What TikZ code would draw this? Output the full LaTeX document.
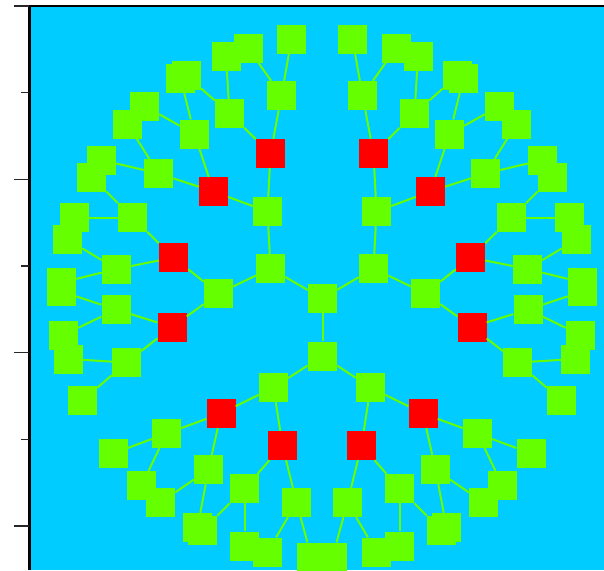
\documentclass[tikz,border=0pt]{standalone}
\usepackage{xcolor}

\definecolor{skycyan}{RGB}{0,204,255}
\definecolor{leafgreen}{RGB}{102,255,0}
\definecolor{hubred}{RGB}{255,0,0}

\begin{document}
\begin{tikzpicture}[
    x=1pt, y=-1pt,
    sq/.style={rectangle, fill=leafgreen, inner sep=0pt, minimum size=29pt},
    hub/.style={sq, fill=hubred},
    edge/.style={draw=leafgreen, line width=2pt},
    axisline/.style={line width=2.2pt, black},
    tickmark/.style={line width=1.2pt, black!85},
]

%% ── Canvas ─────────────────────────────────────────────────────────────────
\useasboundingbox (0,0) rectangle (604,570);
\fill[skycyan] (30,5) rectangle (604,570);

%% ── Centre pair ────────────────────────────────────────────────────────────
\node[sq] (T) at (322.5,298.5) {};
\node[sq] (B) at (322.5,356)   {};
\draw[edge] (T) -- (B);

%% ── Both halves: left drawn as given, right mirrored about x = 322 ────────
\foreach \s/\n in {1/l, -1/r} {
  \begin{scope}[xshift=322pt, xscale=\s]
    % inner green ring
    \foreach \nm/\xx/\yy in {A1/-51.5/268.5, X1/-54.5/211.5, X2/-103.5/293.5,
                             C1/-48.5/387.5}
      \node[sq] (\n\nm) at (\xx,\yy) {};
    % red hubs
    \foreach \nm/\xx/\yy in {R1/-51.5/153.5, R2/-108.5/191.5, R3/-148.5/257.5,
                             R4/-150/327, R5/-101/413.5, R6/-39.5/445.5}
      \node[hub] (\n\nm) at (\xx,\yy) {};
    % children of the hubs
    \foreach \nm/\xx/\yy in {G1/-40.5/95.5, G2/-92.5/113.5, G3/-127.5/134,
                             G4/-163.5/173.5, G5/-189.5/217.5, G6/-205.5/269,
                             G7/-206/309.5, G8/-195.5/362.5,
                             H1/-155.5/433.5, H2/-113.5/469.5,
                             H3/-77.5/488.5, H4/-25.5/502.5}
      \node[sq] (\n\nm) at (\xx,\yy) {};
    % outer leaves
    \foreach \nm/\xx/\yy in {P1/-30.5/39, P2/-74/48, P3/-96/56, P4/-135.5/75.5,
                             P5/-141.5/78.5, P6/-177.5/106, P7/-194.5/124,
                             P8/-220.5/160, P9/-230.5/177, P10/-247.5/217.5,
                             P11/-254.5/239.5, P12/-260.5/282.5,
                             P13/-260.5/291.5, P14/-258.5/335,
                             P15/-253.5/359, P16/-239.5/400.5,
                             P17/-209/453.5, P18/-180.5/485.5,
                             P19/-161.5/502.5, P20/-124.5/527.5,
                             P21/-119.5/530.5, P22/-77.5/546,
                             P23/-54.5/552, P24/-10.5/557}
      \node[sq] (\n\nm) at (\xx,\yy) {};

    %% links
    \draw[edge] (T) -- (\n A1);
    \draw[edge] (B) -- (\n C1);
    \foreach \a/\b in {A1/X1, A1/X2, X1/R1, X1/R2, X2/R3, X2/R4,
                       R1/G1, R1/G2, R2/G3, R2/G4, R3/G5, R3/G6, R4/G7, R4/G8,
                       G1/P1, G1/P2, G2/P3, G2/P4, G3/P5, G3/P6, G4/P7, G4/P8,
                       G5/P9, G5/P10, G6/P11, G6/P12, G7/P13, G7/P14,
                       G8/P15, G8/P16,
                       C1/R5, C1/R6, R5/H1, R5/H2, R6/H3, R6/H4,
                       H1/P17, H1/P18, H2/P19, H2/P20, H3/P21, H3/P22,
                       H4/P23, H4/P24}
      \draw[edge] (\n\a) -- (\n\b);
  \end{scope}
}

%% ── Axis frame and ticks ───────────────────────────────────────────────────
\draw[axisline] (29.5,570) -- (29.5,5.7) -- (604,5.7);
\foreach \yy in {6, 179.3, 352.7, 526}
  \draw[tickmark] (14,\yy) -- (29,\yy);
\foreach \yy in {92.7, 266, 439.3}
  \draw[tickmark] (21,\yy) -- (29,\yy);

\end{tikzpicture}
\end{document}
